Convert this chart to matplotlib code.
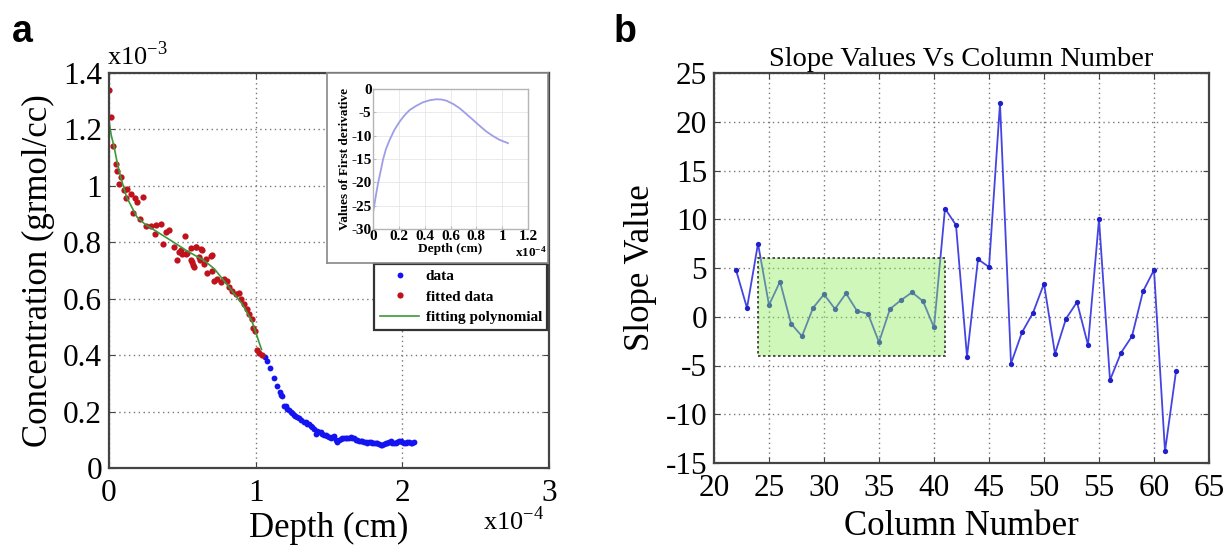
import matplotlib
matplotlib.use('Agg')
import matplotlib.pyplot as plt
import matplotlib.patches as patches
import numpy as np

plt.rcParams['font.family'] = ['Liberation Serif', 'DejaVu Serif']
plt.rcParams['mathtext.fontset'] = 'custom'
plt.rcParams['mathtext.rm'] = 'Liberation Serif'
plt.rcParams['mathtext.bf'] = 'Liberation Serif:bold'
plt.rcParams['axes.unicode_minus'] = False

# ---- panel a data (depth in 1e-4 cm, concentration in 1e-3 grmol/cc) ----
fitted_x = [0.0, 0.016, 0.03, 0.045, 0.057, 0.084, 0.068, 0.10, 0.12, 0.114, 0.148,
            0.18, 0.19, 0.23, 0.166, 0.21, 0.25, 0.284, 0.318, 0.352, 0.314, 0.386,
            0.41, 0.37, 0.443, 0.518, 0.477, 0.50, 0.534, 0.59, 0.466, 0.56, 0.636,
            0.613, 0.693, 0.575, 0.648, 0.489, 0.523, 0.557, 0.591, 0.63, 0.568,
            0.58, 0.62, 0.659, 0.70, 0.67, 0.704, 0.716, 0.738, 0.761, 0.784, 0.807,
            0.818, 0.84, 0.863, 0.886, 0.898, 0.92, 0.943, 0.954, 0.973, 0.982,
            0.995, 1.011, 1.023, 1.04]
fitted_y = [1.34, 1.245, 1.143, 1.077, 1.054, 1.033, 1.007, 0.986, 0.988, 0.956, 0.971,
            0.956, 0.944, 0.962, 0.905, 0.881, 0.857, 0.857, 0.86, 0.864, 0.829, 0.837,
            0.845, 0.793, 0.783, 0.823, 0.765, 0.757, 0.762, 0.783, 0.738, 0.736, 0.771,
            0.748, 0.75, 0.718, 0.724, 0.771, 0.76, 0.781, 0.783, 0.777, 0.73,
            0.714, 0.736, 0.742, 0.754, 0.69, 0.70, 0.664, 0.67, 0.658, 0.67, 0.662,
            0.64, 0.629, 0.617, 0.619, 0.599, 0.581, 0.563, 0.545, 0.527, 0.497,
            0.486, 0.42, 0.408, 0.402]

data_x = [1.063, 1.08, 1.10, 1.125, 1.148, 1.166, 1.17, 1.18, 1.193, 1.205, 1.215,
          1.227, 1.239, 1.25, 1.261, 1.27, 1.284, 1.295, 1.307, 1.33, 1.34, 1.352,
          1.363, 1.375, 1.386, 1.397, 1.409, 1.42, 1.432, 1.443, 1.455, 1.466,
          1.478, 1.489, 1.50, 1.511, 1.523, 1.534, 1.545, 1.557, 1.568, 1.58,
          1.591, 1.602, 1.614, 1.625, 1.636, 1.648, 1.659, 1.67, 1.682, 1.693,
          1.705, 1.716, 1.727, 1.738, 1.75, 1.761, 1.773, 1.784, 1.795, 1.806,
          1.818, 1.829, 1.84, 1.852, 1.863, 1.875, 1.886, 1.898, 1.909, 1.92,
          1.932, 1.943, 1.955, 1.966, 1.977, 1.989, 2.0, 2.011, 2.023, 2.034,
          2.045, 2.056, 2.068, 2.08]
data_y = [0.393, 0.379, 0.355, 0.319, 0.289, 0.271, 0.26, 0.254, 0.221, 0.218, 0.21,
          0.206, 0.198, 0.194, 0.188, 0.186, 0.179, 0.176, 0.17, 0.164, 0.162, 0.155,
          0.155, 0.15, 0.146, 0.14, 0.119, 0.131, 0.128, 0.126, 0.121, 0.117,
          0.118, 0.114, 0.11, 0.107, 0.111, 0.113, 0.101, 0.093, 0.098, 0.102,
          0.105, 0.107, 0.106, 0.105, 0.108, 0.111, 0.107, 0.105, 0.101, 0.099,
          0.097, 0.095, 0.094, 0.093, 0.091, 0.09, 0.092, 0.093, 0.089, 0.087,
          0.088, 0.09, 0.085, 0.081, 0.083, 0.086, 0.088, 0.089, 0.092, 0.095,
          0.09, 0.087, 0.09, 0.093, 0.095, 0.096, 0.091, 0.087, 0.09, 0.093,
          0.091, 0.088, 0.09, 0.093]

poly_x = [0.0, 0.015, 0.034, 0.055, 0.08, 0.12, 0.19, 0.25, 0.31, 0.42, 0.53, 0.65,
          0.72, 0.82, 0.91, 0.975, 1.04]
poly_y = [1.23, 1.18, 1.14, 1.085, 1.03, 0.96, 0.89, 0.862, 0.843, 0.807, 0.77, 0.735,
          0.705, 0.64, 0.58, 0.52, 0.42]

# inset: first derivative of the fitting polynomial
deriv_x = [0.0, 0.02, 0.039, 0.06, 0.077, 0.1, 0.129, 0.165, 0.206, 0.245, 0.284,
           0.335, 0.387, 0.44, 0.49, 0.53, 0.568, 0.62, 0.67, 0.72, 0.774, 0.826,
           0.877, 0.93, 0.98, 1.045]
deriv_y = [-26.6, -23.2, -20.2, -17.5, -15.2, -12.9, -10.9, -8.8, -7.0, -5.6, -4.5,
           -3.6, -2.85, -2.4, -2.2, -2.25, -2.5, -3.2, -4.1, -5.3, -6.6, -7.9,
           -9.1, -10.1, -10.9, -11.6]

# ---- panel b data ----
columns = list(range(22, 63))
slopes = [4.8, 0.9, 7.5, 1.2, 3.6, -0.7, -2.0, 0.9, 2.3, 0.8, 2.4, 0.6, 0.3, -2.6,
          0.8, 1.7, 2.5, 1.6, -1.1, 11.1, 9.4, -4.1, 5.9, 5.1, 21.9, -4.8, -1.6,
          0.4, 3.4, -3.8, -0.2, 1.5, -2.9, 10.0, -6.5, -3.7, -2.0, 2.6, 4.8,
          -13.8, -5.6]
box_cols = (24, 41)
box_vals = (-4, 6)

W, H = 1232, 554
fig = plt.figure(figsize=(12.32, 5.54), dpi=100)
fig.patch.set_facecolor('white')

spine_col = '#444444'
grid_kw = dict(color='#777777', linestyle=(0, (1, 2.5)), linewidth=1.0)


def px_axes(x0, y0, x1, y1):
    # rectangle given in picture pixels (top-left origin)
    return fig.add_axes([x0 / W, 1 - y1 / H, (x1 - x0) / W, (y1 - y0) / H])


def matlab_axes(ax):
    for s in ax.spines.values():
        s.set_color(spine_col)
        s.set_linewidth(1.6)
    ax.tick_params(direction='in', top=True, right=True, length=4,
                   color=spine_col, labelsize=22.5)
    ax.tick_params(axis='x', pad=8)
    ax.tick_params(axis='y', pad=5)
    ax.grid(True, **grid_kw)
    ax.set_axisbelow(True)


# ================= panel a =================
ax1 = px_axes(109, 73, 549, 468)
matlab_axes(ax1)
ax1.plot(data_x, data_y, 'o', color='#1414f0', markersize=4.2, markeredgewidth=0,
         label='data')
ax1.plot(fitted_x, fitted_y, 'o', color='#c0121c', markersize=4.5, markeredgewidth=0,
         label='fitted data')
ax1.plot(poly_x, poly_y, '-', color='#3a9a3a', linewidth=1.2, label='fitting polynomial')
ax1.set_xlim(0, 3)
ax1.set_ylim(0, 1.4)
ax1.set_xticks([0, 1, 2, 3])
ax1.set_xticklabels(['0', '1', '2', '3'])
ax1.set_yticks([0, 0.2, 0.4, 0.6, 0.8, 1.0, 1.2, 1.4])
ax1.set_yticklabels(['0', '0.2', '0.4', '0.6', '0.8', '1', '1.2', '1.4'])
ax1.set_xlabel('Depth (cm)', fontsize=25, labelpad=3)
ax1.set_ylabel('Concentration (grmol/cc)', fontsize=25, labelpad=6)

leg = ax1.legend(loc='upper right', bbox_to_anchor=(0.996, 0.516), fontsize=11,
                 frameon=True, fancybox=False, framealpha=1, borderpad=0.35,
                 handlelength=2.6, handletextpad=0.4, labelspacing=0.45,
                 borderaxespad=0)
leg.get_frame().set_edgecolor('#333333')
leg.get_frame().set_linewidth(1.6)
for t in leg.get_texts():
    t.set_fontweight('bold')

fig.text(107 / W, 1 - 65 / H, r'x10$^{-3}$', fontsize=19)
fig.text(483 / W, 1 - 530 / H, r'x10$^{-4}$', fontsize=19)

# inset figure
box = px_axes(327, 73, 548, 263)
box.set_xticks([])
box.set_yticks([])
for s in box.spines.values():
    s.set_color('#888888')
    s.set_linewidth(1.2)

ins = px_axes(373, 89, 528, 229)
ins.plot(deriv_x, deriv_y, color='#9e9ee8', linewidth=1.3)
ins.set_xlim(0, 1.2)
ins.set_ylim(-30, 0)
ins.set_xticks([0, 0.2, 0.4, 0.6, 0.8, 1.0, 1.2])
ins.set_xticklabels(['0', '0.2', '0.4', '0.6', '0.8', '1', '1.2'])
ins.set_yticks([0, -5, -10, -15, -20, -25, -30])
ins.tick_params(direction='in', length=2, labelsize=11, pad=1, color='#bbbbbb')
for t in ins.get_xticklabels() + ins.get_yticklabels():
    t.set_fontweight('bold')
for s in ins.spines.values():
    s.set_color('#b5b5b5')
    s.set_linewidth(1.0)
ins.grid(True, color='#e6e6e6', linewidth=0.6)
ins.set_axisbelow(True)
ins.set_xlabel('Depth (cm)', fontsize=9.5, fontweight='bold', labelpad=0)
ins.set_ylabel('Values of First derivative', fontsize=9.5, fontweight='bold', labelpad=0)
fig.text(547 / W, 1 - 257 / H, r'$\mathbf{x10^{-4}}$', fontsize=9.5, ha='right')

fig.text(12 / W, 1 - 42 / H, 'a', fontsize=27, fontweight='bold',
         family='Liberation Sans')

# ================= panel b =================
ax2 = px_axes(714, 73, 1209, 463)
matlab_axes(ax2)
ax2.plot(columns, slopes, '-', color='#4444e2', linewidth=1.3, marker='o',
         markersize=3.8, markerfacecolor='#2020c8', markeredgewidth=0)
ax2.add_patch(patches.Rectangle((box_cols[0], box_vals[0]),
                                box_cols[1] - box_cols[0], box_vals[1] - box_vals[0],
                                facecolor=(0.55, 0.93, 0.35, 0.42),
                                edgecolor='#333333', linestyle=(0, (1.5, 1.5)),
                                linewidth=1.2, zorder=3))
ax2.set_xlim(20, 65)
ax2.set_ylim(-15, 25)
ax2.set_xticks(range(20, 66, 5))
ax2.set_yticks(range(-15, 26, 5))
ax2.set_xlabel('Column Number', fontsize=25, labelpad=5)
ax2.set_ylabel('Slope Value', fontsize=25, labelpad=6)
ax2.set_title('Slope Values Vs Column Number', fontsize=20.5, pad=5)

fig.text(614 / W, 1 - 42 / H, 'b', fontsize=27, fontweight='bold',
         family='Liberation Sans')

fig.savefig('out.png', dpi=100)
